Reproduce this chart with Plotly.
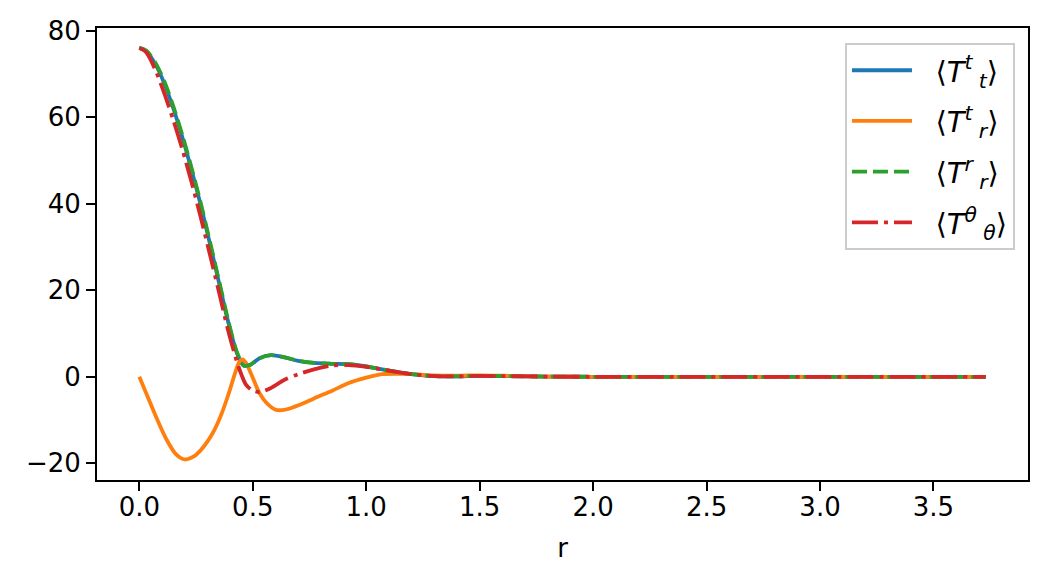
import plotly.graph_objects as go

# ---- data ----
r_tt = [0, 0.03, 0.07, 0.11, 0.15, 0.19, 0.23, 0.27, 0.31, 0.35, 0.39, 0.43, 0.46, 0.49,
        0.53, 0.58, 0.64, 0.70, 0.77, 0.85, 0.92, 1.00, 1.07, 1.14, 1.22, 1.30, 1.40,
        1.50, 1.60, 1.80, 2.0, 2.5, 3.0, 3.5, 3.73]
T_tt = [76.0, 75.3, 72.3, 67.8, 62.0, 55.3, 47.8, 39.8, 31.0, 22.0, 13.0, 5.5, 2.6, 2.8,
        4.3, 5.0, 4.5, 3.7, 3.2, 3.0, 2.9, 2.4, 1.7, 1.1, 0.5, 0.15, 0.1,
        0.2, 0.15, 0.05, 0.0, 0.0, 0.0, 0.0, 0.0]

r_rr = r_tt
T_rr = [76.0, 75.4, 72.6, 68.3, 62.5, 55.8, 48.3, 40.3, 31.5, 22.5, 13.4, 5.7, 2.6, 2.8,
        4.3, 5.0, 4.5, 3.7, 3.2, 3.0, 2.9, 2.4, 1.7, 1.1, 0.5, 0.15, 0.1,
        0.2, 0.15, 0.05, 0.0, 0.0, 0.0, 0.0, 0.0]

r_tr = [0, 0.04, 0.08, 0.12, 0.16, 0.20, 0.24, 0.27, 0.30, 0.33, 0.36, 0.39, 0.42, 0.44,
        0.455, 0.47, 0.49, 0.51, 0.53, 0.56, 0.60, 0.63, 0.67, 0.72, 0.77, 0.85, 0.92,
        1.00, 1.07, 1.14, 1.21, 1.30, 1.40, 1.50, 1.60, 1.80, 2.0, 2.5, 3.0, 3.5, 3.73]
T_tr = [0.0, -5.0, -10.0, -14.5, -17.8, -19.1, -18.4, -17.0, -15.0, -12.4, -8.9, -4.5, 0.5, 3.4,
        4.0, 3.2, 1.0, -1.5, -3.8, -6.0, -7.6, -7.7, -7.2, -6.2, -5.0, -3.2, -1.5,
        -0.2, 0.6, 0.7, 0.6, 0.3, 0.25, 0.35, 0.25, 0.05, 0.0, 0.0, 0.0, 0.0, 0.0]

r_thth = [0, 0.03, 0.07, 0.11, 0.15, 0.19, 0.23, 0.27, 0.31, 0.35, 0.39, 0.43, 0.45, 0.47,
          0.50, 0.535, 0.58, 0.64, 0.70, 0.77, 0.85, 0.92, 1.00, 1.07, 1.14, 1.22, 1.30,
          1.40, 1.50, 1.60, 1.80, 2.0, 2.5, 3.0, 3.5, 3.73]
T_thth = [76.0, 75.0, 71.0, 65.5, 59.3, 52.5, 45.0, 37.0, 28.5, 19.8, 11.0, 3.5, 0.5, -1.8,
          -3.2, -3.5, -2.6, -0.7, 0.6, 1.7, 2.6, 2.7, 2.3, 1.7, 1.1, 0.5, 0.15,
          0.1, 0.2, 0.15, 0.05, 0.0, 0.0, 0.0, 0.0, 0.0]

labels = ["  ⟨<i>T</i><sup><i>t</i></sup><sub> <i>t</i></sub>⟩",
          "  ⟨<i>T</i><sup><i>t</i></sup><sub> <i>r</i></sub>⟩",
          "  ⟨<i>T</i><sup><i>r</i></sup><sub> <i>r</i></sub>⟩",
          "  ⟨<i>T</i><sup><i>θ</i></sup><sub> <i>θ</i></sub>⟩"]

colors = ["#1f77b4", "#ff7f0e", "#2ca02c", "#d62728"]
dashes = ["solid", "solid", "15px,6px", "26px,6px,4px,6px"]
W = 3.8

fig = go.Figure()
series = [(r_tt, T_tt), (r_tr, T_tr), (r_rr, T_rr), (r_thth, T_thth)]
for i, ((xs, ys), name, c, d) in enumerate(zip(series, labels, colors, dashes)):
    fig.add_trace(go.Scatter(x=xs, y=ys, mode="lines", name=name, legendgroup=f"g{i}",
                             line=dict(color=c, width=W, dash=d, shape="spline", smoothing=0.8)))

axis_common = dict(showline=True, linecolor="black", linewidth=2, mirror=True,
                   ticks="outside", ticklen=9, tickwidth=2, tickcolor="black",
                   showgrid=False, zeroline=False, automargin=False,
                   tickfont=dict(family="DejaVu Sans", size=26, color="black"))

fig.update_layout(
    width=1032, height=571,
    margin=dict(l=89, r=12, t=20, b=99, autoexpand=False),
    paper_bgcolor="white", plot_bgcolor="white",
    font=dict(family="DejaVu Sans", size=26, color="black"),
    showlegend=True,
    legend=dict(x=0.986, y=0.967, xanchor="right", yanchor="top", itemwidth=60,
                tracegroupgap=10,
                bgcolor="rgba(255,255,255,0.8)", bordercolor="#cccccc", borderwidth=2,
                font=dict(family="DejaVu Sans", size=29, color="black")),
    xaxis=dict(range=[-0.1865, 3.9165], tickvals=[0, 0.5, 1.0, 1.5, 2.0, 2.5, 3.0, 3.5],
               ticktext=["0.0", "0.5", "1.0", "1.5", "2.0", "2.5", "3.0", "3.5"],
               ticklabelstandoff=-6,
               title=dict(text="r", standoff=18, font=dict(family="DejaVu Sans", size=26)),
               **axis_common),
    yaxis=dict(range=[-23.85, 80.6], tickvals=[-20, 0, 20, 40, 60, 80],
               ticktext=["−20", "0", "20", "40", "60", "80"], **axis_common),
)

fig.write_html("out.html")
